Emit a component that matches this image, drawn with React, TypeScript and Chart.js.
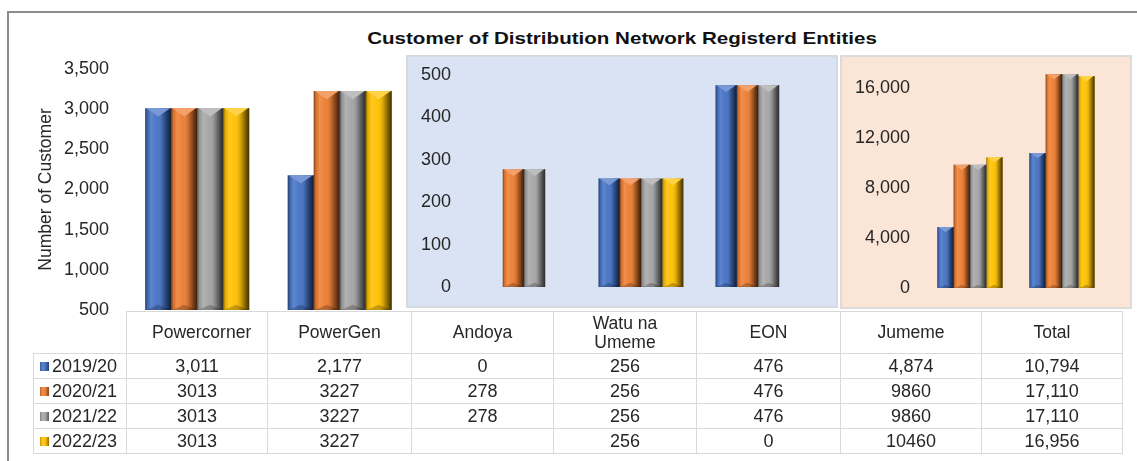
import React, { useEffect, useRef } from 'react';
import { Chart, registerables } from 'chart.js';

Chart.register(...registerables);

const categories = ['Powercorner', 'PowerGen', 'Andoya', 'Watu na Umeme', 'EON', 'Jumeme', 'Total'];
const seriesNames = ['2019/20', '2020/21', '2021/22', '2022/23'];
const values2019: (number | null)[] = [3011, 2177, 0, 256, 476, 4874, 10794];
const values2020: (number | null)[] = [3013, 3227, 278, 256, 476, 9860, 17110];
const values2021: (number | null)[] = [3013, 3227, 278, 256, 476, 9860, 17110];
const values2022: (number | null)[] = [3013, 3227, null, 256, 0, 10460, 16956];
const seriesValues = [values2019, values2020, values2021, values2022];
const seriesColors = ['#4472C4', '#ED7D31', '#A5A5A5', '#FFC000'];
const commaRows = [true, false, false, false];
const commaColumns = ['Total'];
const chartTitle = 'Customer of Distribution Network Registerd Entities';
const yAxisTitle = 'Number of Customer';

const leftGroup = [0, 1];
const middleGroup = [2, 3, 4];
const rightGroup = [5, 6];
const leftTicks = [500, 1000, 1500, 2000, 2500, 3000, 3500];
const middleTicks = [0, 100, 200, 300, 400, 500];
const rightTicks = [0, 4000, 8000, 12000, 16000];

const FONT = '"Liberation Sans", Arial, Helvetica, sans-serif';
const TEXT = '#262626';

function mix(hex: string, target: number, t: number) {
  const n = parseInt(hex.slice(1), 16);
  const r = (n >> 16) & 255, g = (n >> 8) & 255, b = n & 255;
  const m = (c: number) => Math.round(c + (target - c) * t);
  return `rgb(${m(r)},${m(g)},${m(b)})`;
}

const bevelPlugin = {
  id: 'bevel',
  afterDatasetsDraw(chart: any) {
    const ctx = chart.ctx as CanvasRenderingContext2D;
    const area = chart.chartArea;
    ctx.save();
    chart.data.datasets.forEach((ds: any, di: number) => {
      const meta = chart.getDatasetMeta(di);
      const color = ds.backgroundColor as string;
      meta.data.forEach((bar: any) => {
        const p = bar.getProps(['x', 'y', 'base', 'width'], true);
        if (p.y == null || isNaN(p.y)) return;
        const top = Math.max(Math.min(p.y, p.base), area.top);
        const bottom = Math.min(Math.max(p.y, p.base), area.bottom);
        const h = bottom - top;
        if (!(h > 1)) return;
        const w = p.width;
        const l = p.x - w / 2;
        const r = p.x + w / 2;
        const g = ctx.createLinearGradient(l, 0, r, 0);
        g.addColorStop(0, 'rgba(0,0,0,0.5)');
        g.addColorStop(0.08, 'rgba(0,0,0,0.1)');
        g.addColorStop(0.22, 'rgba(255,255,255,0.14)');
        g.addColorStop(0.45, 'rgba(255,255,255,0.03)');
        g.addColorStop(0.7, 'rgba(0,0,0,0.22)');
        g.addColorStop(0.88, 'rgba(0,0,0,0.55)');
        g.addColorStop(1, 'rgba(0,0,0,0.75)');
        ctx.fillStyle = g;
        ctx.fillRect(l, top, w, h);
        const ch = Math.min(w * 0.32, h / 2);
        ctx.beginPath();
        ctx.moveTo(l + 1, top);
        ctx.lineTo(r - 1, top);
        ctx.lineTo(p.x, top + ch);
        ctx.closePath();
        ctx.fillStyle = mix(color, 255, 0.28);
        ctx.fill();
        const bh = Math.min(w * 0.2, h / 3);
        ctx.beginPath();
        ctx.moveTo(l + 1, bottom);
        ctx.lineTo(r - 1, bottom);
        ctx.lineTo(p.x, bottom - bh);
        ctx.closePath();
        ctx.fillStyle = 'rgba(0,0,0,0.22)';
        ctx.fill();
      });
    });
    ctx.restore();
  },
};

type PanelCfg = {
  idx: number[];
  min: number;
  max: number;
  ticks: number[];
  left: number;
  top: number;
  width: number;
  height: number;
  axisWidth: number;
  tickPad: number;
  areaTop: number;
  areaBottom: number;
  padRight: number;
  catPct: number;
  title?: string;
};

function Panel({ cfg }: { cfg: PanelCfg }) {
  const ref = useRef<HTMLCanvasElement | null>(null);
  useEffect(() => {
    if (!ref.current) return;
    const wantTop = cfg.areaTop - cfg.top;
    const wantBottom = cfg.areaBottom - cfg.top;
    let pad = { left: 0, top: wantTop, right: cfg.padRight, bottom: cfg.height - wantBottom };
    const chart = new Chart(ref.current, {
      type: 'bar',
      data: {
        labels: cfg.idx.map((i) => categories[i]),
        datasets: seriesNames.map((name, s) => ({
          label: name,
          data: cfg.idx.map((i) => seriesValues[s][i]),
          backgroundColor: seriesColors[s],
          borderWidth: 0,
          categoryPercentage: cfg.catPct,
          barPercentage: 1,
        })),
      },
      options: {
        responsive: false,
        animation: false,
        devicePixelRatio: 1,
        layout: { padding: { ...pad } },
        plugins: { legend: { display: false }, tooltip: { enabled: false }, title: { display: false } },
        scales: {
          x: { display: false, ticks: { display: false }, grid: { display: false } },
          y: {
            min: cfg.min,
            max: cfg.max,
            grid: { display: false, drawTicks: false },
            border: { display: false },
            ticks: {
              padding: cfg.tickPad,
              color: TEXT,
              font: { family: FONT, size: 18 },
              callback: (v: any) => Number(v).toLocaleString('en-US'),
            },
            afterBuildTicks: (s: any) => {
              s.ticks = cfg.ticks.map((v) => ({ value: v }));
            },
            afterFit: (s: any) => {
              s.width = cfg.axisWidth;
            },
            title: cfg.title
              ? {
                  display: true,
                  text: cfg.title,
                  color: TEXT,
                  font: { family: FONT, size: 17.5 },
                  padding: { top: 16, bottom: 0 },
                }
              : { display: false },
          },
        },
      } as any,
      plugins: [bevelPlugin],
    });
    for (let k = 0; k < 3; k++) {
      const a = chart.chartArea;
      const dTop = wantTop - a.top;
      const dBottom = a.bottom - wantBottom;
      if (Math.abs(dTop) < 0.1 && Math.abs(dBottom) < 0.1) break;
      pad = { left: pad.left, right: pad.right, top: pad.top + dTop, bottom: pad.bottom + dBottom };
      (chart.options as any).layout.padding = { ...pad };
      chart.update('none');
    }
    return () => chart.destroy();
  }, []);
  return (
    <canvas
      ref={ref}
      width={cfg.width}
      height={cfg.height}
      style={{ position: 'absolute', left: cfg.left, top: cfg.top, width: cfg.width, height: cfg.height }}
    />
  );
}

const leftCfg: PanelCfg = {
  idx: leftGroup, min: 500, max: 3500, ticks: leftTicks,
  left: 20, top: 30, width: 391, height: 320,
  axisWidth: 106, tickPad: 17, areaTop: 69, areaBottom: 310, padRight: 0, catPct: 0.73,
  title: yAxisTitle,
};
const middleCfg: PanelCfg = {
  idx: middleGroup, min: 0, max: 500, ticks: middleTicks,
  left: 406, top: 38, width: 431, height: 290,
  axisWidth: 59.5, tickPad: 14.5, areaTop: 75, areaBottom: 287, padRight: 20.5, catPct: 0.725,
};
const rightCfg: PanelCfg = {
  idx: rightGroup, min: 0, max: 18000, ticks: rightTicks,
  left: 840, top: 28, width: 291, height: 295,
  axisWidth: 84, tickPad: 14, areaTop: 63, areaBottom: 288, padRight: 23, catPct: 0.71,
};

const colX = [126, 267, 411, 553, 696, 840, 981, 1122];
const headerTop = 311;
const headerH = 42;
const rowH = 25;

function fmt(v: number | null, row: number, col: number) {
  if (v == null) return '';
  const comma = commaRows[row] || commaColumns.includes(categories[col]);
  return comma ? v.toLocaleString('en-US') : String(v);
}

const cellBase: React.CSSProperties = {
  position: 'absolute',
  boxSizing: 'border-box',
  border: '1px solid #d9d9d9',
  display: 'flex',
  alignItems: 'center',
  justifyContent: 'center',
  fontFamily: FONT,
  fontSize: 18,
  color: TEXT,
  textAlign: 'center',
};

function DataTable() {
  const cells: React.ReactNode[] = [];
  categories.forEach((c, i) => {
    cells.push(
      <div
        key={'h' + i}
        style={{ ...cellBase, left: colX[i], top: headerTop, width: colX[i + 1] - colX[i] + 1, height: headerH + 1, lineHeight: '19px', fontSize: 17.5 }}
      >
        <span style={{ maxWidth: 90 }}>{c}</span>
      </div>
    );
  });
  seriesNames.forEach((name, r) => {
    const y = headerTop + headerH + r * rowH;
    cells.push(
      <div
        key={'l' + r}
        style={{ ...cellBase, left: 33, top: y, width: colX[0] - 33 + 1, height: rowH + 1, justifyContent: 'flex-start', paddingLeft: 6 }}
      >
        <span
          style={{
            display: 'inline-block',
            width: 9,
            height: 9,
            marginRight: 3,
            background: `linear-gradient(90deg, ${mix(seriesColors[r], 0, 0.2)} 0%, ${mix(seriesColors[r], 255, 0.15)} 30%, ${seriesColors[r]} 60%, ${mix(seriesColors[r], 0, 0.45)} 100%)`,
          }}
        />
        {name}
      </div>
    );
    categories.forEach((c, i) => {
      cells.push(
        <div
          key={'c' + r + '_' + i}
          style={{ ...cellBase, left: colX[i], top: y, width: colX[i + 1] - colX[i] + 1, height: rowH + 1 }}
        >
          {fmt(seriesValues[r][i], r, i)}
        </div>
      );
    });
  });
  return <>{cells}</>;
}

export default function App() {
  return (
    <div
      style={{
        position: 'absolute',
        left: 0,
        top: 0,
        width: 1137,
        height: 461,
        overflow: 'hidden',
        background: '#ffffff',
        fontFamily: FONT,
      }}
    >
      <div style={{ position: 'absolute', left: 7, top: 11, right: 0, height: 2, background: '#8c8c8c' }} />
      <div style={{ position: 'absolute', left: 7, top: 11, width: 2, bottom: 0, background: '#8c8c8c' }} />
      <div
        style={{
          position: 'absolute',
          left: 406,
          top: 55,
          width: 432,
          height: 253,
          boxSizing: 'border-box',
          background: '#DAE3F3',
          border: '2px solid #d5d9e0',
        }}
      />
      <div
        style={{
          position: 'absolute',
          left: 840,
          top: 55,
          width: 292,
          height: 254,
          boxSizing: 'border-box',
          background: '#FBE5D6',
          border: '2px solid #dcdcdc',
        }}
      />
      <div
        style={{
          position: 'absolute',
          left: 622,
          top: 29,
          transform: 'translateX(-50%) scaleX(1.21)',
          whiteSpace: 'nowrap',
          fontFamily: FONT,
          fontWeight: 'bold',
          fontSize: 17,
          lineHeight: '20px',
          color: '#111',
        }}
      >
        {chartTitle}
      </div>
      <Panel cfg={leftCfg} />
      <Panel cfg={middleCfg} />
      <Panel cfg={rightCfg} />
      <DataTable />
    </div>
  );
}
